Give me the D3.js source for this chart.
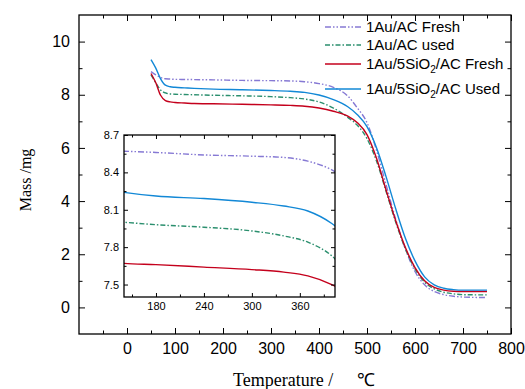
<!DOCTYPE html>
<html>
<head>
<meta charset="utf-8">
<script src="https://cdn.jsdelivr.net/npm/d3@7"></script>
<style>
  body { margin: 0; background: #fff; }
  .tick text { font-family: "Liberation Sans", Arial, sans-serif; fill: #000; }
</style>
</head>
<body>
<div id="my_dataviz"></div>
<script>
// Temperatures (°C) and masses (mg)
const temps = [50, 60, 70, 80, 90, 100, 120, 140, 180, 240, 300, 340, 370, 400, 430, 460, 480, 500, 520, 540, 560, 580, 600, 620, 640, 660, 680, 700, 750];
const auAcFresh = [8.87, 8.75, 8.65, 8.6, 8.59, 8.58, 8.575, 8.57, 8.56, 8.54, 8.53, 8.52, 8.49, 8.42, 8.28, 7.95, 7.5, 6.95, 5.9, 4.6, 3.3, 2.2, 1.35, 0.85, 0.6, 0.48, 0.42, 0.39, 0.37];
const auAcUsed = [8.75, 8.45, 8.18, 8.07, 8.03, 8.02, 8.01, 8.0, 7.98, 7.96, 7.93, 7.89, 7.84, 7.73, 7.5, 7.15, 6.85, 6.35, 5.5, 4.35, 3.2, 2.2, 1.45, 0.95, 0.7, 0.57, 0.51, 0.48, 0.47];
const auSiFresh = [8.8, 8.45, 7.98, 7.78, 7.73, 7.71, 7.69, 7.67, 7.66, 7.64, 7.62, 7.6, 7.57, 7.5, 7.38, 7.2, 6.95, 6.5, 5.6, 4.4, 3.25, 2.25, 1.5, 1.0, 0.75, 0.65, 0.61, 0.6, 0.6];
const auSiUsed = [9.32, 9.0, 8.6, 8.36, 8.3, 8.28, 8.26, 8.24, 8.21, 8.19, 8.16, 8.13, 8.09, 7.99, 7.82, 7.55, 7.25, 6.8, 6.0, 4.9, 3.7, 2.6, 1.75, 1.15, 0.85, 0.72, 0.67, 0.65, 0.65];

const seriesNames = ["1Au/AC Fresh", "1Au/AC used", "1Au/5SiO2/AC Fresh", "1Au/5SiO2/AC Used"];
const seriesValues = [auAcFresh, auAcUsed, auSiFresh, auSiUsed];

const xTicks = [0, 100, 200, 300, 400, 500, 600, 700, 800];
const yTicks = [0, 2, 4, 6, 8, 10];
const insetXTicks = [180, 240, 300, 360];
const insetYTicks = [7.5, 7.8, 8.1, 8.4, 8.7];

const styles = [
  {color: "#8679d4", dash: "6,2,1.5,2,1.5,2"},
  {color: "#2b8f6e", dash: "5,2,1.5,2"},
  {color: "#c4001c", dash: null},
  {color: "#1288d6", dash: null}
];

const W = 525, H = 389;
const svg = d3.select("#my_dataviz")
  .append("svg")
  .attr("width", W)
  .attr("height", H);

// main plot box
const box = {left: 79, right: 511, top: 15, bottom: 334};
const x = d3.scaleLinear().domain([-100, 800]).range([box.left, box.right]);
const y = d3.scaleLinear().domain([-1, 11]).range([box.bottom, box.top]);

const data = seriesValues.map(vals => temps.map((t, i) => ({t: t, v: vals[i]})));

function drawAxes(g, xs, ys, xt, yt, xMinor, yMinor, b, fs, pad, major, minor) {
  const addAxis = (axis, tr, showLabels) => {
    const a = g.append("g").attr("transform", tr).call(axis);
    a.select(".domain").remove();
    a.selectAll("line").attr("stroke", "#000").attr("stroke-width", 1);
    a.selectAll("text").style("font-size", fs + "px");
    if (!showLabels) a.selectAll("text").remove();
  };
  // major + minor, all four sides, ticks inward
  addAxis(d3.axisBottom(xs).tickValues(xt).tickSize(-major).tickPadding(pad), `translate(0,${b.bottom})`, true);
  addAxis(d3.axisBottom(xs).tickValues(xMinor).tickSize(-minor).tickFormat(""), `translate(0,${b.bottom})`, false);
  addAxis(d3.axisTop(xs).tickValues(xt).tickSize(-major).tickFormat(""), `translate(0,${b.top})`, false);
  addAxis(d3.axisTop(xs).tickValues(xMinor).tickSize(-minor).tickFormat(""), `translate(0,${b.top})`, false);
  addAxis(d3.axisLeft(ys).tickValues(yt).tickSize(-major).tickPadding(pad), `translate(${b.left},0)`, true);
  addAxis(d3.axisLeft(ys).tickValues(yMinor).tickSize(-minor).tickFormat(""), `translate(${b.left},0)`, false);
  addAxis(d3.axisRight(ys).tickValues(yt).tickSize(-major).tickFormat(""), `translate(${b.right},0)`, false);
  addAxis(d3.axisRight(ys).tickValues(yMinor).tickSize(-minor).tickFormat(""), `translate(${b.right},0)`, false);
  g.append("rect")
    .attr("x", b.left).attr("y", b.top)
    .attr("width", b.right - b.left).attr("height", b.bottom - b.top)
    .attr("fill", "none").attr("stroke", "#000").attr("stroke-width", 1.3);
}

// main curves
const line = d3.line().x(d => x(d.t)).y(d => y(d.v)).curve(d3.curveMonotoneX);
svg.append("g").selectAll("path")
  .data(data)
  .join("path")
  .attr("d", line)
  .attr("fill", "none")
  .attr("stroke", (d, i) => styles[i].color)
  .attr("stroke-width", 1.4)
  .attr("stroke-dasharray", (d, i) => styles[i].dash);

drawAxes(svg.append("g"), x, y, xTicks, yTicks,
  [-50, 50, 150, 250, 350, 450, 550, 650, 750], [1, 3, 5, 7, 9],
  box, 16, 9, 6, 3.5);

// axis titles
const xTitle = svg.append("text")
  .attr("x", 233)
  .attr("y", 386)
  .style("font-family", "'Liberation Serif', 'Times New Roman', serif")
  .style("font-size", "18px");
xTitle.append("tspan").text("Temperature /");
xTitle.append("tspan")
  .attr("x", 357)
  .style("font-family", "'Liberation Sans', Arial, sans-serif")
  .text("\u2103");

svg.append("text")
  .attr("transform", "translate(31,180) rotate(-90)")
  .attr("text-anchor", "middle")
  .style("font-family", "'Liberation Serif', 'Times New Roman', serif")
  .style("font-size", "16px")
  .text("Mass /mg");

// legend
const legend = svg.append("g");
const legendY = [27, 45, 64, 89];
seriesNames.forEach((name, i) => {
  legend.append("line")
    .attr("x1", 325).attr("x2", 361)
    .attr("y1", legendY[i]).attr("y2", legendY[i])
    .attr("stroke", styles[i].color)
    .attr("stroke-width", 1.4)
    .attr("stroke-dasharray", styles[i].dash);
  const t = legend.append("text")
    .attr("x", 366)
    .attr("y", legendY[i] + 5)
    .style("font-family", "'Liberation Sans', Arial, sans-serif")
    .style("font-size", "15px");
  const m = name.match(/^(.*SiO)2(.*)$/);
  if (m) {
    t.append("tspan").text(m[1]);
    t.append("tspan").attr("dy", 4).style("font-size", "10px").text("2");
    t.append("tspan").attr("dy", -4).text(m[2]);
  } else {
    t.text(name);
  }
});

// inset
const ib = {left: 124, right: 335, top: 135, bottom: 297};
const ix = d3.scaleLinear().domain([140, 404]).range([ib.left, ib.right]);
const iy = d3.scaleLinear().domain([7.4, 8.7]).range([ib.bottom, ib.top]);

const inset = svg.append("g");
inset.append("rect")
  .attr("x", ib.left).attr("y", ib.top)
  .attr("width", ib.right - ib.left).attr("height", ib.bottom - ib.top)
  .attr("fill", "#fff");

svg.append("clipPath").attr("id", "insetClip")
  .append("rect")
  .attr("x", ib.left).attr("y", ib.top)
  .attr("width", ib.right - ib.left).attr("height", ib.bottom - ib.top);

const iline = d3.line().x(d => ix(d.t)).y(d => iy(d.v)).curve(d3.curveMonotoneX);
inset.append("g")
  .attr("clip-path", "url(#insetClip)")
  .selectAll("path")
  .data(data.map(s => s.filter(d => d.t >= 120 && d.t <= 430)))
  .join("path")
  .attr("d", iline)
  .attr("fill", "none")
  .attr("stroke", (d, i) => styles[i].color)
  .attr("stroke-width", 1.4)
  .attr("stroke-dasharray", (d, i) => styles[i].dash);

drawAxes(inset.append("g"), ix, iy, insetXTicks, insetYTicks,
  [150, 210, 270, 330, 390], [7.65, 7.95, 8.25, 8.55],
  ib, 11, 5, 4, 2.5);
</script>
</body>
</html>
